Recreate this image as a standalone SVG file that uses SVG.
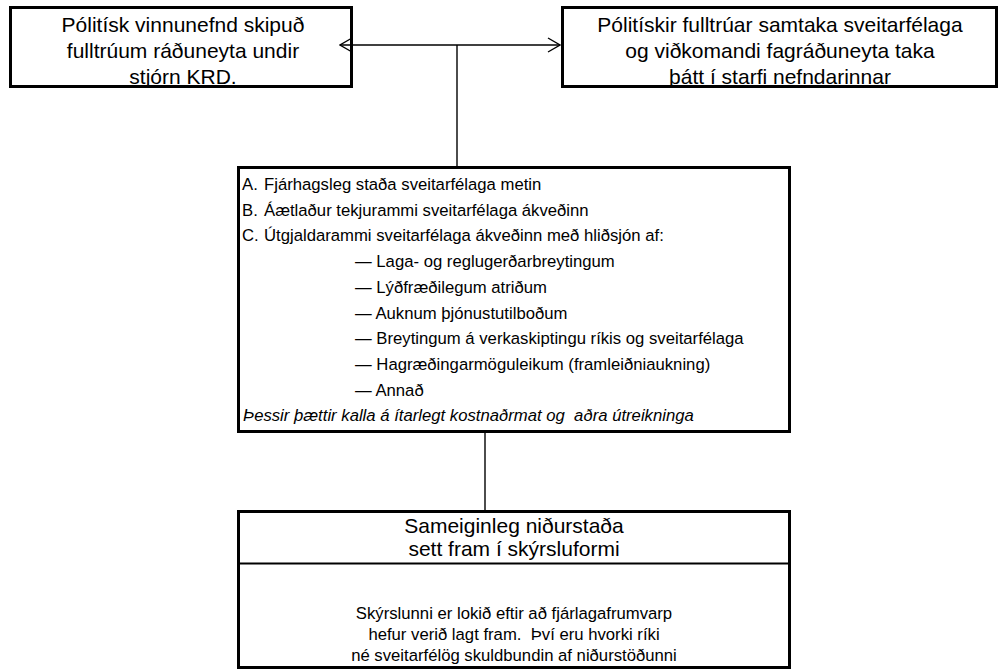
<svg xmlns="http://www.w3.org/2000/svg" width="999" height="670" viewBox="0 0 999 670">
<style>
.box{fill:#fff;stroke:#000;stroke-width:3}
.ln{stroke:#000;stroke-width:1.4;fill:none}
.t21{font-family:"Liberation Sans",Arial,sans-serif;font-size:21px;fill:#000;text-anchor:middle}
.t17{font-family:"Liberation Sans",Arial,sans-serif;font-size:16.7px;fill:#000}
.c{text-anchor:middle}
.it{font-style:italic;white-space:pre}
</style>
<defs>
<marker id="open" viewBox="0 0 14 16" refX="13" refY="8" markerWidth="14" markerHeight="16" markerUnits="userSpaceOnUse" orient="auto-start-reverse">
<path d="M1,1 L13,8 L1,15" fill="none" stroke="#000" stroke-width="1.4"/>
</marker>
</defs>
<rect width="999" height="670" fill="#fff"/>
<g id="node-left">
<rect class="box" x="10.5" y="7.5" width="341" height="79"/>
<text class="t21" x="183" y="32">Pólitísk vinnunefnd skipuð</text>
<text class="t21" x="183" y="58">fulltrúum ráðuneyta undir</text>
<text class="t21" x="183" y="84">stjórn KRD.</text>
</g>
<g id="node-right">
<rect class="box" x="562.5" y="7.5" width="434" height="79"/>
<text class="t21" x="780" y="32">Pólitískir fulltrúar samtaka sveitarfélaga</text>
<text class="t21" x="780" y="58">og viðkomandi fagráðuneyta taka</text>
<text class="t21" x="780" y="84">þátt í starfi nefndarinnar</text>
</g>
<g id="node-center">
<rect class="box" x="238.5" y="167.5" width="551" height="264"/>
<text class="t17" y="190"><tspan x="242">A.</tspan><tspan x="264">Fjárhagsleg staða sveitarfélaga metin</tspan></text>
<text class="t17" y="215.7"><tspan x="242">B.</tspan><tspan x="264">Áætlaður tekjurammi sveitarfélaga ákveðinn</tspan></text>
<text class="t17" y="241.4"><tspan x="242">C.</tspan><tspan x="264">Útgjaldarammi sveitarfélaga ákveðinn með hliðsjón af:</tspan></text>
<text class="t17" x="355" y="267.1">— Laga- og reglugerðarbreytingum</text>
<text class="t17" x="355" y="292.8">— Lýðfræðilegum atriðum</text>
<text class="t17" x="355" y="318.5">— Auknum þjónustutilboðum</text>
<text class="t17" x="355" y="344.2">— Breytingum á verkaskiptingu ríkis og sveitarfélaga</text>
<text class="t17" x="355" y="369.9">— Hagræðingarmöguleikum (framleiðniaukning)</text>
<text class="t17" x="355" y="395.6">— Annað</text>
<text class="t17 it" x="243" y="421.3">Þessir þættir kalla á ítarlegt kostnaðrmat og  aðra útreikninga</text>
</g>
<g id="node-bottom">
<rect class="box" x="238.5" y="511.5" width="551" height="156"/>
<line x1="238" y1="563.5" x2="790" y2="563.5" stroke="#000" stroke-width="2.2"/>
<text class="t21" x="514" y="533">Sameiginleg niðurstaða</text>
<text class="t21" x="514" y="556">sett fram í skýrsluformi</text>
<text class="t17 c" x="514" y="619">Skýrslunni er lokið eftir að fjárlagafrumvarp</text>
<text class="t17 c" x="514" y="640" style="white-space:pre">hefur verið lagt fram.  Því eru hvorki ríki</text>
<text class="t17 c" x="514" y="661">né sveitarfélög skuldbundin af niðurstöðunni</text>
</g>
<g id="connectors">
<line class="ln" x1="340" y1="45" x2="560" y2="45" marker-start="url(#open)" marker-end="url(#open)"/>
<line class="ln" x1="457" y1="45" x2="457" y2="166"/>
<line class="ln" x1="485" y1="433" x2="485" y2="510"/>
</g>
</svg>
